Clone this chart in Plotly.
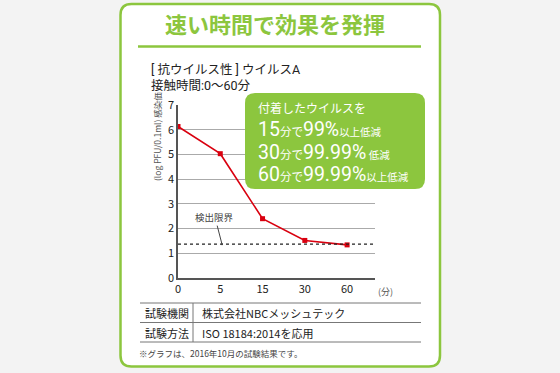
import plotly.graph_objects as go

# ---- data ----
times = ["0", "5", "15", "30", "60"]
infectivity = [6.13, 5.03, 2.40, 1.52, 1.34]
y_ticks = [0, 1, 2, 3, 4, 5, 6, 7]
detection_limit = 1.37
title_text = "速い時間で効果を発揮"
subtitle1 = "[ 抗ウイルス性 ] ウイルスA"
subtitle2 = "接触時間:0〜60分"
table_rows = [["試験機関", "株式会社NBCメッシュテック"], ["試験方法", "ISO 18184:2014を応用"]]
footnote = "※グラフは、2016年10月の試験結果です。"
callout_head = "付着したウイルスを"
callout_rows = [("15", "99%", "以上低減"), ("30", "99.99%", " 低減"), ("60", "99.99%", "以上低減")]

GREEN = "#8cc63e"
RED = "#d9000f"
FONT = "Noto Sans CJK JP"
MIXED = "Roboto, Noto Sans CJK JP"

W, H = 560, 373
L, R, T, B = 178, 375, 105, 278


def px(p):
    return (p - L) / (R - L)


def py(p):
    return (B - p) / (B - T)


def rounded_path(x0, y0, x1, y1, r):
    X = lambda v: px(v)
    Y = lambda v: py(v)
    return (
        f"M {X(x0 + r)},{Y(y0)} L {X(x1 - r)},{Y(y0)} Q {X(x1)},{Y(y0)} {X(x1)},{Y(y0 + r)} "
        f"L {X(x1)},{Y(y1 - r)} Q {X(x1)},{Y(y1)} {X(x1 - r)},{Y(y1)} "
        f"L {X(x0 + r)},{Y(y1)} Q {X(x0)},{Y(y1)} {X(x0)},{Y(y1 - r)} "
        f"L {X(x0)},{Y(y0 + r)} Q {X(x0)},{Y(y0)} {X(x0 + r)},{Y(y0)} Z"
    )


fig = go.Figure()
fig.add_trace(go.Scatter(
    x=times, y=infectivity, mode="lines+markers",
    line=dict(color=RED, width=1.6),
    marker=dict(color=RED, size=5, symbol="square"),
    showlegend=False, hoverinfo="skip",
))

shapes = []
shapes.append(dict(type="path", path=rounded_path(120.5, 4, 440, 366.5, 11), xref="paper", yref="paper",
                   fillcolor="white", line=dict(color=GREEN, width=2.5), layer="below"))
shapes.append(dict(type="line", xref="paper", yref="paper", x0=px(138), x1=px(421), y0=py(46.5), y1=py(46.5),
                   line=dict(color=GREEN, width=2.5)))
shapes.append(dict(type="line", xref="x domain", yref="y", x0=0, x1=1, y0=detection_limit, y1=detection_limit,
                   line=dict(color="#222", width=1.2, dash="dot")))
shapes.append(dict(type="path", path=rounded_path(245, 93, 425, 189, 10), xref="paper", yref="paper",
                   fillcolor=GREEN, line=dict(color=GREEN, width=0), layer="above"))
for yy in (303, 322.5, 342):
    shapes.append(dict(type="line", xref="paper", yref="paper", x0=px(140), x1=px(421), y0=py(yy), y1=py(yy),
                       line=dict(color="#777", width=1)))
shapes.append(dict(type="line", xref="paper", yref="paper", x0=px(193), x1=px(193), y0=py(303), y1=py(342),
                   line=dict(color="#777", width=1)))

ann = []
ann.append(dict(text=f"<b>{title_text}</b>", x=px(275), y=py(22.5), xref="paper", yref="paper",
                showarrow=False, font=dict(size=22, color=GREEN, family=FONT), xanchor="center", yanchor="middle"))
ann.append(dict(text=f"{subtitle1}<br>{subtitle2}", x=px(149), y=py(78), xref="paper", yref="paper",
                showarrow=False, align="left",
                font=dict(size=12.5, color="#222", family=MIXED), xanchor="left", yanchor="middle"))
ann.append(dict(text="(log PFU/0.1ml) 感染価", x=px(157), y=py(137), xref="paper", yref="paper", showarrow=False,
                textangle=-90, font=dict(size=8.5, color="#555", family=FONT), xanchor="center", yanchor="middle"))
ann.append(dict(text="(分)", x=px(385), y=py(291), xref="paper", yref="paper", showarrow=False,
                font=dict(size=9, color="#555", family=FONT), xanchor="center", yanchor="middle"))
ann.append(dict(text="検出限界", x=1.04, y=detection_limit, xref="x", yref="y",
                ax=-7, ay=-27, axref="pixel", ayref="pixel",
                showarrow=True, arrowhead=6, arrowsize=0.5, arrowwidth=1, arrowcolor="#444", standoff=0,
                font=dict(size=9.5, color="#444", family=FONT)))

big = "font-size:19.5px"
sm = "font-size:11.5px"
xs = "font-size:10.5px"
parts = [f"<span style='font-size:12px'>{callout_head}</span>"]
for mins, pct, tail in callout_rows:
    parts.append(f"<span style='{big}'>{mins}</span><span style='{sm}'>分で</span>"
                 f"<span style='{big}'>{pct}</span><span style='{xs}'>{tail}</span>")
ann.append(dict(text="<br>".join(parts), x=px(256), y=py(143), xref="paper", yref="paper", showarrow=False,
                align="left", font=dict(size=17.5, color="white", family=MIXED),
                xanchor="left", yanchor="middle"))

for (k, v), yy in zip(table_rows, (313, 332.5)):
    ann.append(dict(text=k, x=px(167), y=py(yy), xref="paper", yref="paper", showarrow=False,
                    font=dict(size=11, color="#222", family=FONT), xanchor="center", yanchor="middle"))
    ann.append(dict(text=v, x=px(200), y=py(yy), xref="paper", yref="paper", showarrow=False,
                    font=dict(size=11, color="#222", family=FONT), xanchor="left", yanchor="middle"))
ann.append(dict(text=footnote, x=px(137), y=py(352.5), xref="paper", yref="paper", showarrow=False,
                font=dict(size=8.5, color="#444", family=FONT), xanchor="left", yanchor="middle"))

fig.update_layout(
    width=W, height=H,
    margin=dict(l=L, r=W - R, t=T, b=H - B, pad=0),
    paper_bgcolor="#f3f3f3",
    plot_bgcolor="rgba(0,0,0,0)",
    font=dict(family=FONT, color="#222"),
    shapes=shapes,
    annotations=ann,
    xaxis=dict(type="category", categoryorder="array", categoryarray=times, range=[0, 4.66],
               showgrid=False, showline=True, linecolor="#555", linewidth=1.5, ticks="",
               tickfont=dict(size=11, color="#222"), fixedrange=True),
    yaxis=dict(range=[0, 7], tickvals=y_ticks, showgrid=True, gridcolor="#aaa", gridwidth=1,
               showline=True, linecolor="#555", linewidth=1.5, zeroline=False, ticks="",
               tickfont=dict(size=11, color="#222"), fixedrange=True),
)

fig.write_html("out.html", config={"displayModeBar": False},
               post_script="document.body.style.margin='0';document.body.style.background='#f3f3f3';")
